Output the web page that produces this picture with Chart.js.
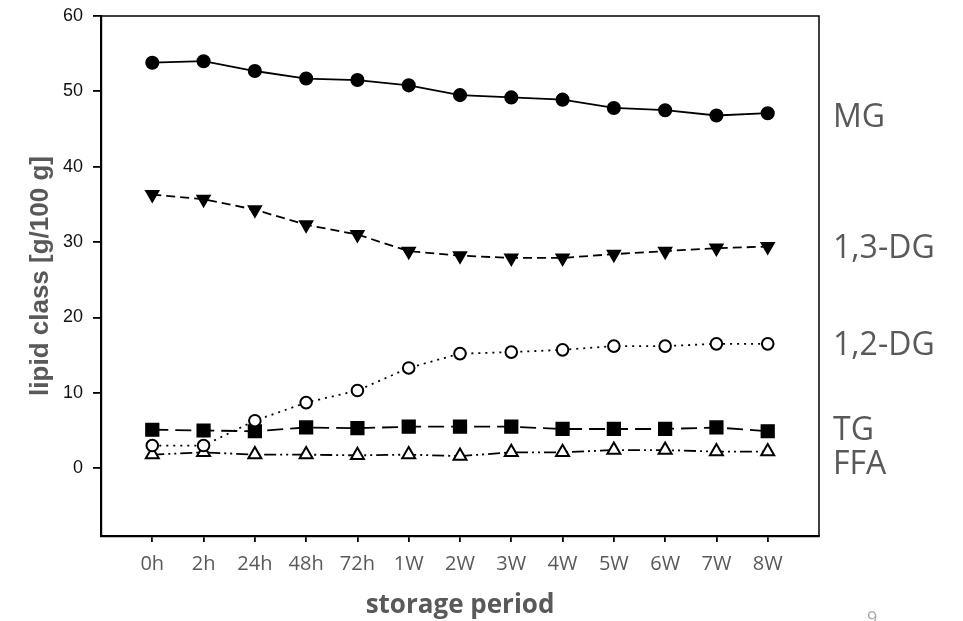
<!DOCTYPE html>
<html>
<head>
<meta charset="utf-8">
<script src="https://cdn.jsdelivr.net/npm/chart.js@4.4.1/dist/chart.umd.min.js"></script>
<style>
  html, body { margin: 0; padding: 0; background: #fff; }
  #wrap { width: 963px; height: 621px; position: relative; }
</style>
</head>
<body>
<div id="wrap"><canvas id="grafico"></canvas></div>
<script>
// dados
const periodos = ['0h', '2h', '24h', '48h', '72h', '1W', '2W', '3W', '4W', '5W', '6W', '7W', '8W'];
const valMG   = [53.8, 54.0, 52.7, 51.7, 51.5, 50.8, 49.5, 49.2, 48.9, 47.8, 47.5, 46.8, 47.1];
const valDG13 = [36.3, 35.7, 34.3, 32.3, 31.0, 28.8, 28.2, 27.9, 27.9, 28.4, 28.8, 29.2, 29.4];
const valDG12 = [3.0, 3.0, 6.3, 8.7, 10.3, 13.3, 15.2, 15.4, 15.7, 16.2, 16.2, 16.5, 16.5];
const valTG   = [5.1, 5.0, 4.9, 5.4, 5.3, 5.5, 5.5, 5.5, 5.2, 5.2, 5.2, 5.4, 4.9];
const valFFA  = [1.8, 2.1, 1.8, 1.8, 1.7, 1.8, 1.6, 2.1, 2.1, 2.4, 2.4, 2.2, 2.2];
const ticksY = [0, 10, 20, 30, 40, 50, 60];
const rotulos = ['MG', '1,3-DG', '1,2-DG', 'TG', 'FFA'];

const CINZA = '#595959';

function pontos(arr) {
    return arr.map((v, i) => ({ x: i, y: v }));
}

// moldura fina em cima e na direita + rótulos das séries
const extras = {
    id: 'extras',
    afterDraw(chart) {
        const { ctx, chartArea: a } = chart;
        ctx.save();
        ctx.strokeStyle = '#000';
        ctx.lineWidth = 1.5;
        ctx.beginPath();
        ctx.moveTo(a.left, a.top);
        ctx.lineTo(a.right, a.top);
        ctx.lineTo(a.right, a.bottom);
        ctx.stroke();

        const posY = [118, 249, 346, 431, 465];
        ctx.fillStyle = CINZA;
        ctx.font = '32px "Open Sans"';
        ctx.textBaseline = 'middle';
        ctx.textAlign = 'left';
        rotulos.forEach((t, i) => ctx.fillText(t, 833, posY[i]));

        ctx.fillStyle = '#aaa';
        ctx.font = '18px "Open Sans"';
        ctx.textBaseline = 'top';
        ctx.fillText('9', 867, 610);
        ctx.restore();
    }
};

const base = { borderColor: '#000', borderWidth: 1.8, pointBorderColor: '#000', pointBorderWidth: 1.5, tension: 0 };

new Chart(document.getElementById('grafico').getContext('2d'), {
    type: 'line',
    data: {
        datasets: [
            { ...base, label: 'MG', data: pontos(valMG), pointStyle: 'circle', pointRadius: 6.3, pointBackgroundColor: '#000' },
            { ...base, label: '1,3-DG', data: pontos(valDG13), borderDash: [9, 5], pointStyle: 'triangle', pointRotation: 180, pointRadius: 7.5, pointBackgroundColor: '#000' },
            { ...base, label: '1,2-DG', data: pontos(valDG12), borderDash: [2, 5], pointStyle: 'circle', pointRadius: 5.8, pointBorderWidth: 2, pointBackgroundColor: '#fff' },
            { ...base, label: 'TG', data: pontos(valTG), borderDash: [16, 7], pointStyle: 'rect', pointRadius: 9, pointBackgroundColor: '#000' },
            { ...base, label: 'FFA', data: pontos(valFFA), borderDash: [12, 4, 2, 4, 2, 4], pointStyle: 'triangle', pointRadius: 7.5, pointBorderWidth: 2, pointBackgroundColor: '#fff' }
        ]
    },
    options: {
        responsive: true,
        maintainAspectRatio: false,
        animation: false,
        layout: { padding: { top: 16, right: 144, left: 0, bottom: 0 } },
        plugins: { legend: { display: false }, tooltip: { enabled: false } },
        scales: {
            x: {
                type: 'linear', min: -1, max: 13,
                afterBuildTicks: s => { s.ticks = periodos.map((p, i) => ({ value: i })); },
                afterFit: s => { s.height = 85; },
                border: { display: true, color: '#000', width: 2.2 },
                grid: { display: true, drawOnChartArea: false, drawTicks: true, tickLength: 6, color: '#000', lineWidth: 1.8 },
                ticks: {
                    padding: 10, color: CINZA, maxRotation: 0, autoSkip: false,
                    font: { family: '"Open Sans"', size: 20 },
                    callback: v => periodos[v] ?? ''
                },
                title: { display: true, text: 'storage period', color: CINZA, padding: { top: 0, bottom: 0 }, font: { family: '"Open Sans"', size: 26, weight: 'bold' } }
            },
            y: {
                min: -9, max: 60,
                afterBuildTicks: s => { s.ticks = ticksY.map(v => ({ value: v })); },
                afterFit: s => { s.width = 101; s.paddingTop = 0; s.paddingBottom = 0; },
                border: { display: true, color: '#000', width: 2.2 },
                grid: { display: true, drawOnChartArea: false, drawTicks: true, tickLength: 8, color: '#000', lineWidth: 1.8 },
                ticks: { padding: 10, color: '#111', font: { family: '"Liberation Sans"', size: 18 } },
                title: { display: true, text: 'lipid class [g/100 g]', color: CINZA, padding: { top: 25, bottom: 0 }, font: { family: '"Liberation Sans"', size: 26, weight: 'bold' } }
            }
        }
    },
    plugins: [extras]
});
</script>
</body>
</html>
